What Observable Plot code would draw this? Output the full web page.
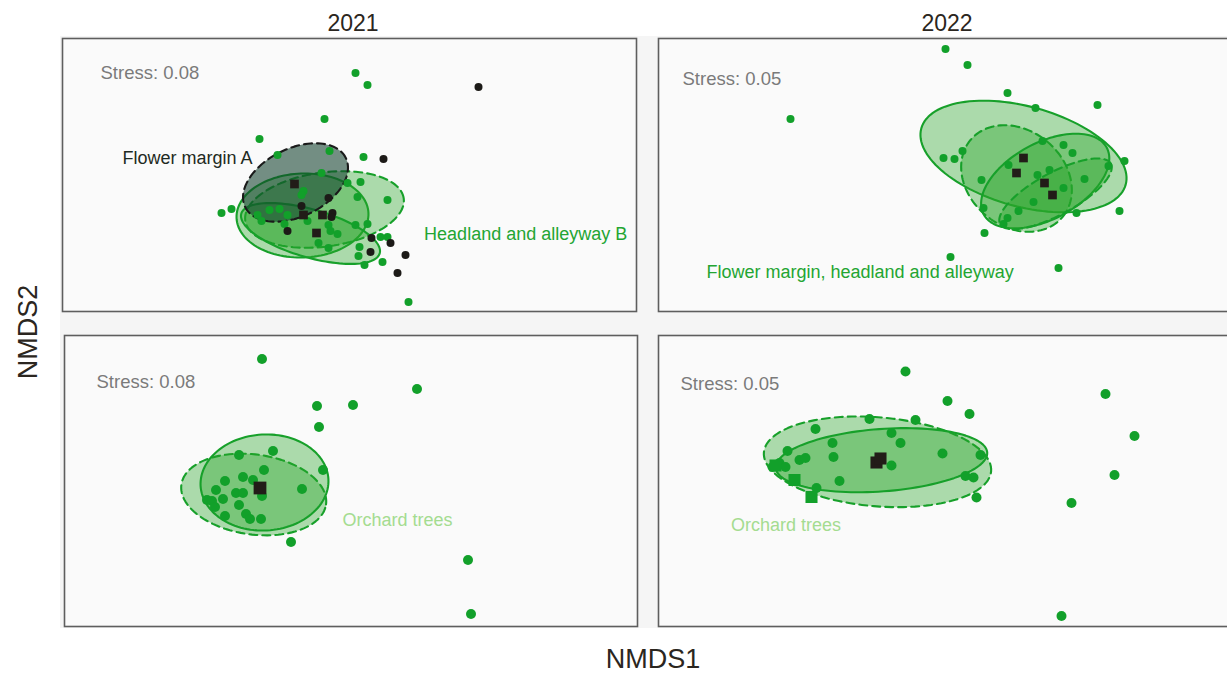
<!DOCTYPE html>
<html>
<head>
<meta charset="utf-8">
<script src="https://cdn.jsdelivr.net/npm/d3@7"></script>
<script src="https://cdn.jsdelivr.net/npm/@observablehq/plot@0.6"></script>
<style>
  body { margin: 0; background: #ffffff; font-family: "Liberation Sans", Arial, sans-serif; }
  #chart { position: relative; width: 1227px; height: 674px; overflow: hidden; background: #ffffff; }
  #bg { position: absolute; left: 60px; top: 36px; width: 1167px; height: 592px; background: #f5f5f5; }
  #chart svg { position: absolute; }
</style>
</head>
<body>
<div id="chart"><div id="bg"></div></div>
<script>
// ---------------- DATA (NMDS scores) ----------------
const years = ["2021", "2022"];
const axisTitles = ["NMDS1", "NMDS2"];
const stressLabels = ["Stress: 0.08", "Stress: 0.05", "Stress: 0.08", "Stress: 0.05"];

// 2021 – field margin / headland / alleyway
const green2021Top = [
  [0.03,0.51],[0.09,0.45],[-0.125,0.28],[-0.45,0.18],[-0.36,0.10],[-0.10,0.12],[0.07,0.09],
  [-0.14,0.01],[-0.01,-0.04],[0.055,-0.035],[-0.23,-0.08],[-0.24,-0.10],[0.04,-0.11],[0.19,-0.125],
  [-0.64,-0.19],[-0.59,-0.17],[-0.46,-0.20],[-0.40,-0.175],[-0.35,-0.17],[-0.31,-0.20],[-0.44,-0.23],
  [-0.325,-0.245],[-0.21,-0.23],[-0.105,-0.25],[-0.095,-0.28],[-0.06,-0.295],[0.03,-0.25],[0.09,-0.245],
  [-0.155,-0.34],[-0.105,-0.365],[0.05,-0.36],[0.045,-0.405],[0.155,-0.31],[0.19,-0.31],[0.165,-0.435],
  [0.075,-0.45],[0.295,-0.635]
];
const black2021Top = [
  [0.645,0.44],[0.17,0.08],[-0.105,-0.115],[-0.24,-0.155],[-0.085,-0.19],[-0.09,-0.21],
  [-0.31,-0.28],[0.11,-0.315],[0.205,-0.34],[0.105,-0.385],[0.28,-0.40],[0.24,-0.49]
];
const centroids2021Top = [[-0.275,-0.045],[-0.23,-0.20],[-0.135,-0.20],[-0.165,-0.29]];
const ellipses2021Top = [
  {group: "green-solid",  cx: -0.235, cy: -0.2025, a: 0.33, b: 0.21,  angle: 2},
  {group: "green-dashed", cx: -0.125, cy: -0.1725, a: 0.40, b: 0.185, angle: 8},
  {group: "green-solid",  cx: -0.195, cy: -0.2925, a: 0.36, b: 0.12,  angle: -16},
  {group: "dark-dashed",  cx: -0.27,  cy: -0.0375, a: 0.28, b: 0.17,  angle: 26}
];
const labels2021Top = [
  {text: "Flower margin A", x: -1.135, y: 0.0825, kind: "dark"},
  {text: "Headland and alleyway B", x: 0.373, y: -0.2975, kind: "green"}
];

// 2022 – field margin / headland / alleyway
const green2022Top = [
  [0.0,0.63],[0.11,0.55],[-0.775,0.28],[0.31,0.41],[0.45,0.335],[0.76,0.35],[-0.01,0.085],
  [0.045,0.08],[0.085,0.12],[0.485,0.17],[0.59,0.15],[0.635,0.11],[0.895,0.07],[0.815,0.045],
  [0.315,0.05],[0.18,-0.025],[0.46,0.0],[0.52,0.025],[0.695,-0.02],[0.59,-0.065],[0.44,-0.135],
  [0.365,-0.18],[0.19,-0.165],[0.31,-0.215],[0.29,-0.245],[0.655,-0.19],[0.87,-0.18],[0.195,-0.29],
  [0.025,-0.41],[0.565,-0.465]
];
const centroids2022Top = [[0.39,0.085],[0.355,0.01],[0.495,-0.04],[0.535,-0.10]];
const ellipses2022Top = [
  {group: "green-solid",  cx: 0.39,   cy: 0.0925, a: 0.53,  b: 0.25,  angle: -15.4},
  {group: "green-dashed", cx: 0.355,  cy: -0.0175, a: 0.30, b: 0.24,  angle: -40},
  {group: "green-solid",  cx: 0.4985, cy: -0.03,  a: 0.35,  b: 0.19,  angle: 28.6},
  {group: "green-dashed", cx: 0.55,   cy: -0.094, a: 0.315, b: 0.105, angle: 28.6}
];
const labels2022Top = [
  {text: "Flower margin, headland and alleyway", x: -1.195, y: -0.4875, kind: "green"}
];

// 2021 – orchard trees
const green2021Bottom = [
  [-0.445,0.61],[0.33,0.46],[-0.17,0.375],[0.01,0.38],[-0.16,0.27],[-0.56,0.13],[-0.39,0.15],
  [-0.435,0.055],[-0.14,0.055],[-0.54,0.02],[-0.49,0.005],[-0.63,0.0],[-0.675,-0.045],[-0.575,-0.06],
  [-0.54,-0.06],[-0.245,-0.04],[-0.445,-0.075],[-0.72,-0.095],[-0.695,-0.10],[-0.64,-0.09],
  [-0.68,-0.13],[-0.56,-0.12],[-0.63,-0.175],[-0.525,-0.165],[-0.505,-0.19],[-0.45,-0.19],
  [-0.30,-0.305],[0.585,-0.395],[0.60,-0.665]
];
const centroids2021Bottom = [[-0.455,-0.035]];
const ellipses2021Bottom = [
  {group: "green-dashed", cx: -0.4865, cy: -0.0675, a: 0.365, b: 0.20, angle: -7.8},
  {group: "green-solid",  cx: -0.4325, cy: -0.0075, a: 0.32,  b: 0.24, angle: 3}
];
const labels2021Bottom = [{text: "Orchard trees", x: -0.0425, y: -0.1975, kind: "light"}];

// 2022 – orchard trees
const green2022Bottom = [
  [-0.20,0.5475],[0.01,0.40],[0.12,0.335],[0.80,0.435],[0.945,0.225],[0.845,0.03],[0.63,-0.11],
  [0.58,-0.675],[-0.38,0.31],[-0.15,0.305],[-0.65,0.26],[-0.27,0.24],[-0.225,0.19],[-0.565,0.19],
  [-0.79,0.15],[-0.56,0.12],[-0.73,0.105],[-0.70,0.115],[-0.015,0.1375],[0.175,0.13],[-0.27,0.0775],
  [-0.83,0.09],[-0.80,0.07],[-0.865,0.07],[0.10,0.025],[0.14,0.0175],[-0.53,0.0],[-0.645,-0.035],
  [0.155,-0.0825]
];
const greenSquares2022Bottom = [[-0.85,0.0775],[-0.755,0.005],[-0.67,-0.08]];
const centroids2022Bottom = [[-0.345,0.0925],[-0.325,0.1125]];
const ellipses2022Bottom = [
  {group: "green-dashed", cx: -0.34, cy: 0.096, a: 0.57, b: 0.2225, angle: -4.75},
  {group: "green-solid",  cx: -0.32, cy: 0.104, a: 0.53, b: 0.156,  angle: 4.2}
];
const labels2022Bottom = [{text: "Orchard trees", x: -1.0725, y: -0.2225, kind: "light"}];

// ---------------- STYLE ----------------
const FONT = "'Liberation Sans', Arial, sans-serif";
const GREEN = "#12a02a";
const INK = "#221c18";
const ellipseStyle = {
  "green-solid":  {fill: "#2aa52a", fillOpacity: 0.38, stroke: "#17a02a", dash: null},
  "green-dashed": {fill: "#2aa52a", fillOpacity: 0.38, stroke: "#17a02a", dash: "8,5"},
  "dark-dashed":  {fill: "#123f2c", fillOpacity: 0.58, stroke: "#1a1a1a", dash: "8,5"}
};
const labelColor = {dark: "#1e2a22", green: "#23a532", light: "#a4dc90"};

function ellipsePoints(e, n = 120) {
  const th = e.angle * Math.PI / 180;
  return d3.range(n).map(i => {
    const t = 2 * Math.PI * i / n;
    const u = e.a * Math.cos(t), v = e.b * Math.sin(t);
    return {x: e.cx + u * Math.cos(th) - v * Math.sin(th), y: e.cy + u * Math.sin(th) + v * Math.cos(th)};
  });
}

const chart = document.getElementById("chart");
const K = 200; // pixels per NMDS unit (equal aspect)

function panel(cfg) {
  const m = 3;
  const {w, h} = cfg;
  const marks = [Plot.frame({fill: "#fafafa"})];
  for (const e of cfg.ellipses) {
    const s = ellipseStyle[e.group];
    marks.push(Plot.line(ellipsePoints(e), {
      x: "x", y: "y", curve: "linear-closed",
      fill: s.fill, fillOpacity: s.fillOpacity, stroke: s.stroke, strokeWidth: 2.1,
      strokeDasharray: s.dash
    }));
  }
  marks.push(Plot.dot(cfg.green, {x: d => d[0], y: d => d[1], r: cfg.r, fill: GREEN}));
  if (cfg.black) marks.push(Plot.dot(cfg.black, {x: d => d[0], y: d => d[1], r: cfg.r, fill: "#1c1a17"}));
  if (cfg.greenSquares) marks.push(Plot.dot(cfg.greenSquares, {x: d => d[0], y: d => d[1], r: cfg.sq, symbol: "square", fill: GREEN}));
  marks.push(Plot.dot(cfg.centroids, {x: d => d[0], y: d => d[1], r: cfg.sq, symbol: "square", fill: INK}));
  marks.push(Plot.frame({stroke: "#5e5e5e", strokeWidth: 1.6}));
  marks.push(Plot.text([cfg.stress], {
    frameAnchor: "top-left", dx: cfg.sdx, dy: cfg.sdy, text: d => d,
    textAnchor: "start", fontSize: 18.5, fill: "#7a7a7a"
  }));
  marks.push(Plot.text(cfg.labels, {
    x: "x", y: "y", text: "text", textAnchor: "start", fontSize: 18,
    fill: d => labelColor[d.kind]
  }));
  const svg = Plot.plot({
    width: w + 2 * m, height: h + 2 * m, margin: m,
    x: {domain: [-w / 2 / K, w / 2 / K], axis: null},
    y: {domain: [-h / 2 / K, h / 2 / K], axis: null},
    style: {background: "transparent", fontFamily: FONT, overflow: "visible"},
    marks
  });
  svg.style.left = (cfg.left - m) + "px";
  svg.style.top = (cfg.top - m) + "px";
  chart.appendChild(svg);
}

panel({left: 62, top: 38, w: 574, h: 273, r: 4, sq: 4.9,
  green: green2021Top, black: black2021Top, centroids: centroids2021Top,
  ellipses: ellipses2021Top, labels: labels2021Top, stress: stressLabels[0], sdx: 38, sdy: 27});
panel({left: 658, top: 38, w: 574, h: 273, r: 4, sq: 4.9,
  green: green2022Top, centroids: centroids2022Top,
  ellipses: ellipses2022Top, labels: labels2022Top, stress: stressLabels[1], sdx: 24, sdy: 33});
panel({left: 64, top: 335, w: 573, h: 291, r: 5, sq: 7.2,
  green: green2021Bottom, centroids: centroids2021Bottom,
  ellipses: ellipses2021Bottom, labels: labels2021Bottom, stress: stressLabels[2], sdx: 32, sdy: 39});
panel({left: 658, top: 335, w: 574, h: 291, r: 5, sq: 6.8,
  green: green2022Bottom, greenSquares: greenSquares2022Bottom, centroids: centroids2022Bottom,
  ellipses: ellipses2022Bottom, labels: labels2022Bottom, stress: stressLabels[3], sdx: 22, sdy: 41});

// ---------------- Titles and axis titles ----------------
const over = d3.select(chart).append("svg")
  .attr("width", 1227).attr("height", 674)
  .style("left", "0px").style("top", "0px").style("pointer-events", "none")
  .style("font-family", FONT);
over.selectAll("text.yr").data(years).join("text")
  .attr("class", "yr")
  .attr("x", (d, i) => [353, 947][i]).attr("y", 31)
  .attr("text-anchor", "middle").attr("font-size", 23).attr("fill", "#2b2620")
  .text(d => d);
over.append("text").attr("x", 653).attr("y", 668).attr("text-anchor", "middle")
  .attr("font-size", 27).attr("fill", "#2b2620").text(axisTitles[0]);
over.append("text").attr("transform", "translate(37,332) rotate(-90)").attr("text-anchor", "middle")
  .attr("font-size", 27).attr("fill", "#2b2620").text(axisTitles[1]);
</script>
</body>
</html>
